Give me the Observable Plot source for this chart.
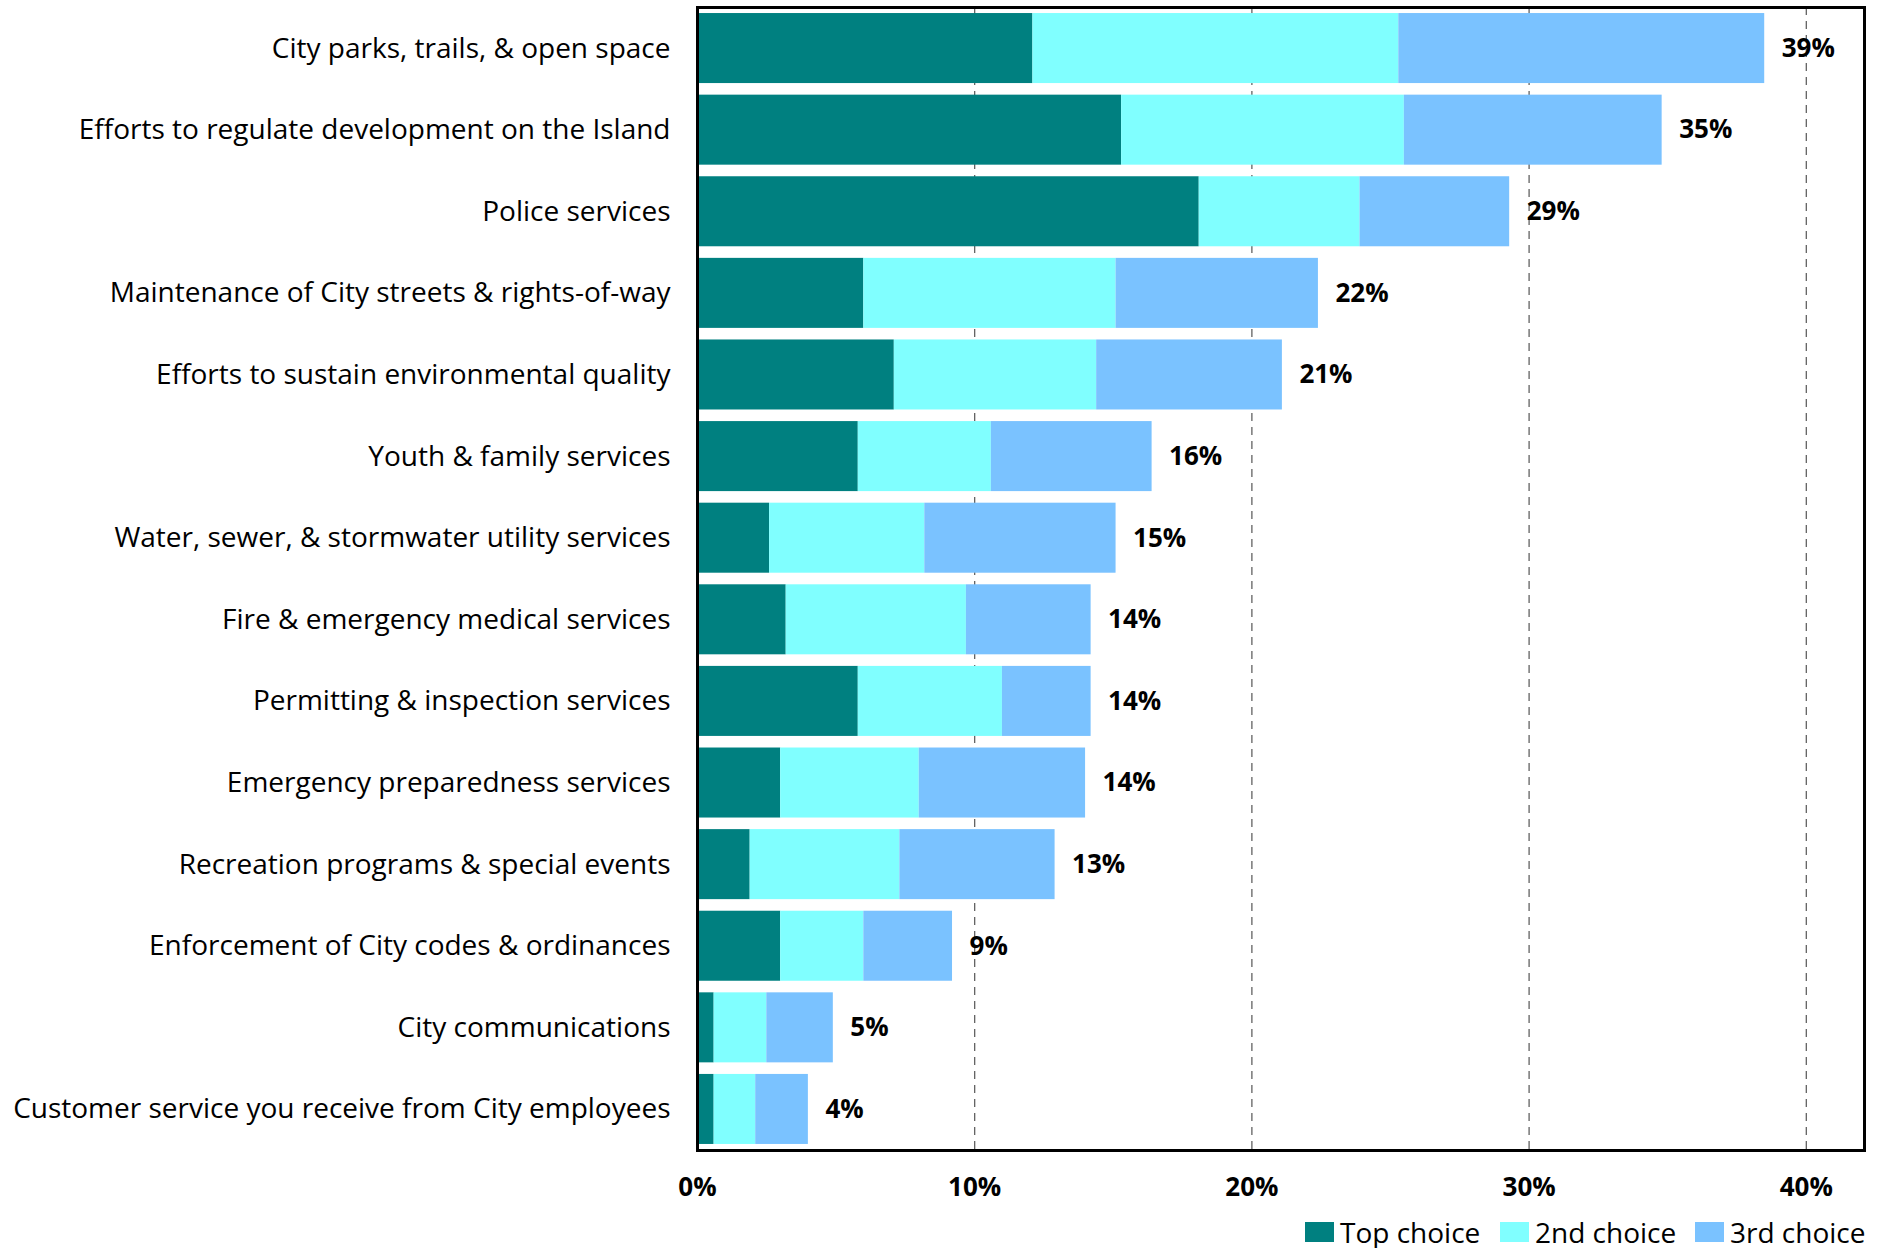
<!DOCTYPE html>
<html>
<head>
<meta charset="utf-8">
<script src="https://cdn.jsdelivr.net/npm/d3@7"></script>
<script src="https://cdn.jsdelivr.net/npm/@observablehq/plot@0.6"></script>
<style>
  body { margin: 0; background: #fff; font-family: "Open Sans", sans-serif; overflow: hidden; }
  #chart svg { display: block; }
  #legend { position: relative; height: 38px; width: 1881px; }
  .item { position: absolute; top: 8px; display: flex; align-items: center; font-size: 28px; line-height: 28px; color: #000; white-space: nowrap; }
  .sw { width: 29px; height: 20px; margin-right: 6px; display: inline-block; }
</style>
</head>
<body>
<div id="chart"></div>
<div id="legend"></div>
<script>
const categories = [
  "City parks, trails, & open space",
  "Efforts to regulate development on the Island",
  "Police services",
  "Maintenance of City streets & rights-of-way",
  "Efforts to sustain environmental quality",
  "Youth & family services",
  "Water, sewer, & stormwater utility services",
  "Fire & emergency medical services",
  "Permitting & inspection services",
  "Emergency preparedness services",
  "Recreation programs & special events",
  "Enforcement of City codes & ordinances",
  "City communications",
  "Customer service you receive from City employees"
];
const seriesNames = ["Top choice", "2nd choice", "3rd choice"];
const seriesColors = ["#008080", "#80FFFF", "#7AC2FF"];
const topChoice    = [12.1, 15.3, 18.1, 6.0, 7.1, 5.8, 2.6, 3.2, 5.8, 3.0, 1.9, 3.0, 0.6, 0.6];
const secondChoice = [13.2, 10.2, 5.8, 9.1, 7.3, 4.8, 5.6, 6.5, 5.2, 5.0, 5.4, 3.0, 1.9, 1.5];
const thirdChoice  = [13.2, 9.3, 5.4, 7.3, 6.7, 5.8, 6.9, 4.5, 3.2, 6.0, 5.6, 3.2, 2.4, 1.9];
const totalLabels  = [39, 35, 29, 22, 21, 16, 15, 14, 14, 14, 13, 9, 5, 4];
const xTicks = [0, 10, 20, 30, 40];
const gridTicks = [10, 20, 30, 40];

const seriesValues = [topChoice, secondChoice, thirdChoice];
const rows = [];
categories.forEach((c, i) => {
  seriesNames.forEach((s, j) => rows.push({category: c, series: s, value: seriesValues[j][i]}));
});
const totals = categories.map((c, i) => ({
  category: c,
  total: topChoice[i] + secondChoice[i] + thirdChoice[i],
  label: totalLabels[i] + "%"
}));

const chart = Plot.plot({
  width: 1881,
  height: 1210,
  marginLeft: 697,
  marginRight: 17,
  marginTop: 7,
  marginBottom: 60,
  style: {fontFamily: "'Open Sans', sans-serif", color: "#000", background: "#fff"},
  x: {domain: [0, 42.1], ticks: xTicks, tickFormat: d => d + "%", label: null},
  y: {domain: categories, label: null, paddingInner: 0.142, paddingOuter: 0.074, round: false},
  color: {domain: seriesNames, range: seriesColors},
  marks: [
    Plot.ruleX(gridTicks, {stroke: "#555", strokeDasharray: "8,6", strokeWidth: 1.2}),
    Plot.barX(rows, Plot.stackX({y: "category", x: "value", fill: "series", order: seriesNames, inset: 0})),
    Plot.text(totals, {x: "total", y: "category", text: "label", textAnchor: "start", dx: 17,
      fontWeight: "bold", fontSize: 26, fill: "#000"}),
    Plot.axisX({ticks: xTicks, tickFormat: d => d + "%", tickSize: 0, tickPadding: 27,
      fontSize: 26, fontWeight: "bold", fill: "#000", label: null}),
    Plot.axisY({tickSize: 0, tickPadding: 27, fontSize: 28, fill: "#000", label: null}),
    Plot.frame({stroke: "#000", strokeWidth: 3})
  ]
});
document.getElementById("chart").appendChild(chart);

const legend = document.getElementById("legend");
const lefts = [1305, 1500, 1695];
seriesNames.forEach((s, j) => {
  const it = document.createElement("div");
  it.className = "item";
  it.style.left = lefts[j] + "px";
  const sw = document.createElement("span");
  sw.className = "sw";
  sw.style.background = seriesColors[j];
  const t = document.createElement("span");
  t.textContent = s;
  it.appendChild(sw); it.appendChild(t);
  legend.appendChild(it);
});
</script>
</body>
</html>
